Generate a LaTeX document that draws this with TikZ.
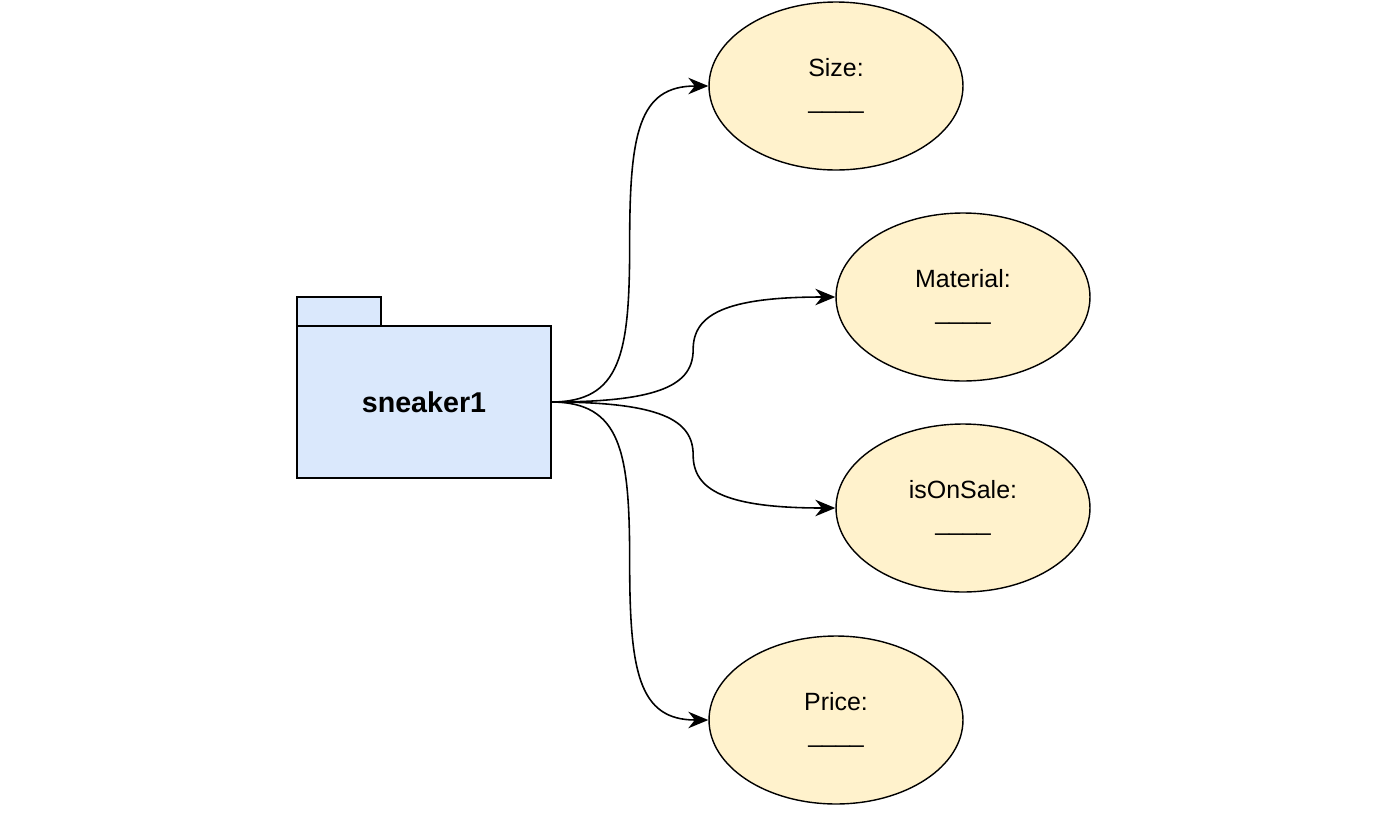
\documentclass[tikz,border=0pt]{standalone}
\usepackage{fontspec}
\setmainfont{Liberation Sans}
\usetikzlibrary{arrows.meta,shapes.geometric,calc}
\definecolor{folderblue}{HTML}{DAE8FC}
\definecolor{fieldyellow}{HTML}{FFF2CC}

\begin{document}
\begin{tikzpicture}[
  x=0.02cm, y=-0.02cm,
  folder/.style={rectangle, draw=black, fill=folderblue, line width=1pt,
    minimum width=5.08cm, minimum height=3.04cm, outer sep=0pt,
    font=\fontsize{16.3}{19}\selectfont\bfseries},
  foldertab/.style={rectangle, draw=black, fill=folderblue, line width=1pt,
    minimum width=1.68cm, minimum height=0.58cm, inner sep=0pt, outer sep=0pt},
  field/.style={ellipse, draw=black, fill=fieldyellow, line width=0.8pt,
    minimum width=5.08cm, minimum height=3.36cm, inner sep=0pt,
    align=center, font=\fontsize{14.2}{18.2}\selectfont},
  link/.style={line width=0.9pt,
    -{Stealth[length=0.4cm, width=0.33cm, inset=0.13cm]}}
]
  \useasboundingbox (0,0) rectangle (1400,812);

  % package
  \node[folder] (shoe) at (424,402) {sneaker1};
  \node[foldertab, anchor=south west] (tab) at (shoe.north west) {};

  % attributes
  \node[field] (size) at (836,86) {Size:\\\_\_\_\_};
  \node[field] (material) at (963,297) {Material:\\\_\_\_\_};
  \node[field] (sale) at (963,508) {isOnSale:\\\_\_\_\_};
  \node[field] (price) at (836,720) {Price:\\\_\_\_\_};

  % links
  \coordinate (m1) at ($(shoe.east)!0.5!(size.west)$);
  \coordinate (m2) at ($(shoe.east)!0.5!(material.west)$);
  \coordinate (m3) at ($(shoe.east)!0.5!(sale.west)$);
  \coordinate (m4) at ($(shoe.east)!0.5!(price.west)$);

  \draw[link] (shoe.east) .. controls +(70,0) and +(0,110) .. (m1)
    .. controls +(0,-110) and +(-70,0) .. (size.west);
  \draw[link] (shoe.east) .. controls +(110,0) and +(0,35) .. (m2)
    .. controls +(0,-35) and +(-110,0) .. (material.west);
  \draw[link] (shoe.east) .. controls +(110,0) and +(0,-35) .. (m3)
    .. controls +(0,35) and +(-110,0) .. (sale.west);
  \draw[link] (shoe.east) .. controls +(70,0) and +(0,-110) .. (m4)
    .. controls +(0,110) and +(-70,0) .. (price.west);
\end{tikzpicture}
\end{document}
